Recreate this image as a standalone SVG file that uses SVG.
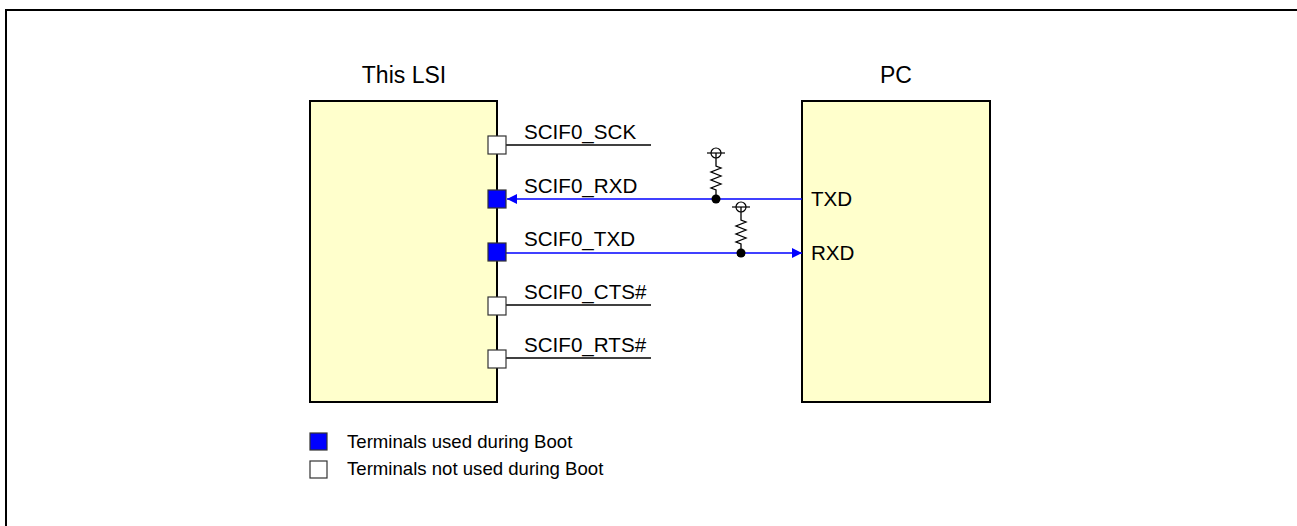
<svg xmlns="http://www.w3.org/2000/svg" width="1297" height="526" viewBox="0 0 1297 526">
<style>
text{font-family:"Liberation Sans",Arial,sans-serif;fill:#000}
.box{fill:#FFFFCC;stroke:#000;stroke-width:2}
.pin{fill:#fff;stroke:#333;stroke-width:1.2}
.used{fill:#0000FF;stroke:#333;stroke-width:1.2}
.wire{stroke:#000;stroke-width:1.3;fill:none}
.sig{stroke:#0000FF;stroke-width:1.3;fill:none}
.lbl{font-size:20.6px}
.ttl{font-size:23px}
.leg{font-size:18.6px}
</style>
<defs>
<marker id="ah" viewBox="0 0 10 10" refX="10" refY="5" markerWidth="10" markerHeight="10" markerUnits="userSpaceOnUse" orient="auto">
<path d="M0,0 L10,5 L0,10 z" fill="#0000FF"/>
</marker>
<g id="res">
<circle cx="0" cy="0" r="5" fill="none" stroke="#000" stroke-width="1.2"/>
<line x1="-9" y1="0" x2="9" y2="0" stroke="#000" stroke-width="1.2"/>
<path d="M0,0 V13 L5,15 L-5,19 L5,23 L-5,27 L5,31 L-5,35 L0,37 V46" fill="none" stroke="#000" stroke-width="1.3"/>
<circle cx="0" cy="46" r="4.5" fill="#000"/>
</g>
</defs>
<path d="M6,526 V10 H1297" fill="none" stroke="#000" stroke-width="2"/>
<g id="lsi">
<text class="ttl" x="404" y="83" text-anchor="middle">This LSI</text>
<rect class="box" x="310" y="101" width="187" height="301"/>
</g>
<g id="pc">
<text class="ttl" x="896" y="83" text-anchor="middle">PC</text>
<rect class="box" x="802" y="101" width="188" height="301"/>
<text class="lbl" x="811" y="206">TXD</text>
<text class="lbl" x="811" y="260">RXD</text>
</g>
<g id="connectors">
<line class="wire" x1="506" y1="145" x2="651" y2="145"/>
<line class="wire" x1="506" y1="305" x2="651" y2="305"/>
<line class="wire" x1="506" y1="358" x2="651" y2="358"/>
<line class="sig" x1="802" y1="199" x2="507" y2="199" marker-end="url(#ah)"/>
<line class="sig" x1="506" y1="253" x2="802" y2="253" marker-end="url(#ah)"/>
<use href="#res" x="716" y="153"/>
<use href="#res" x="741" y="207"/>
</g>
<g id="pin-sck">
<rect class="pin" x="488" y="136" width="18" height="18"/>
<text class="lbl" x="524" y="139">SCIF0_SCK</text>
</g>
<g id="pin-rxd">
<rect class="used" x="488" y="190" width="18" height="18"/>
<text class="lbl" x="524" y="193">SCIF0_RXD</text>
</g>
<g id="pin-txd">
<rect class="used" x="488" y="243" width="18" height="18"/>
<text class="lbl" x="524" y="246">SCIF0_TXD</text>
</g>
<g id="pin-cts">
<rect class="pin" x="488" y="297" width="18" height="18"/>
<text class="lbl" x="524" y="299">SCIF0_CTS#</text>
</g>
<g id="pin-rts">
<rect class="pin" x="488" y="350" width="18" height="18"/>
<text class="lbl" x="524" y="352">SCIF0_RTS#</text>
</g>
<g id="legend">
<rect class="used" x="310" y="433" width="17" height="17"/>
<text class="leg" x="347" y="448">Terminals used during Boot</text>
<rect class="pin" x="310" y="461" width="17" height="17"/>
<text class="leg" x="347" y="475">Terminals not used during Boot</text>
</g>
</svg>
